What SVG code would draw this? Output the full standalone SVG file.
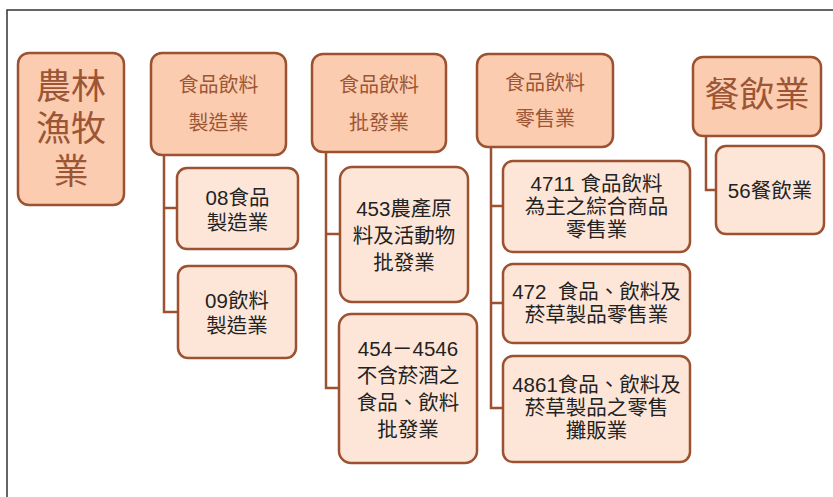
<svg xmlns="http://www.w3.org/2000/svg" width="833" height="497" viewBox="0 0 833 497">
<style>
.top rect{fill:#FBCCAF;stroke:#9C5130;stroke-width:2.5}
.child rect{fill:#FDE6D8;stroke:#9C5130;stroke-width:2.5}
.top text{fill:#9C5535;font-family:"Noto Sans CJK TC","Liberation Sans",sans-serif;text-anchor:middle}
.child text{fill:#222;font-family:"Liberation Sans","Noto Sans CJK TC",sans-serif;text-anchor:middle;font-size:20.5px}
#connectors path{fill:none;stroke:#9C5130;stroke-width:2.5}
</style>
<rect x="0" y="0" width="833" height="497" fill="#fff"/>
<path d="M7,497 V10 H833" fill="none" stroke="#333" stroke-width="1.5"/>
<g id="connectors">
<path d="M164,155 V312 H178 M164,208 H177"/>
<path d="M326,152 V388 H339 M326,234 H340"/>
<path d="M491,147 V408 H503 M491,206 H503 M491,303 H503"/>
<path d="M706,136 V190 H716"/>
</g>
<g id="n1" class="top"><rect x="18" y="53" width="106" height="152" rx="11"/>
<text x="71" y="99" font-size="35">農林</text><text x="71" y="141" font-size="35">漁牧</text><text x="71" y="184" font-size="35">業</text></g>
<g id="n2" class="top"><rect x="151" y="53" width="135" height="102" rx="11"/>
<text x="218.5" y="92" font-size="20">食品飲料</text><text x="218.5" y="130" font-size="20">製造業</text></g>
<g id="n2a" class="child"><rect x="177" y="168" width="121" height="81" rx="10"/>
<text x="237.5" y="205" font-size="22.5">08食品</text><text x="237.5" y="230" font-size="22.5">製造業</text></g>
<g id="n2b" class="child"><rect x="178" y="266" width="118" height="92" rx="10"/>
<text x="237" y="308" font-size="22.5">09飲料</text><text x="237" y="333" font-size="22.5">製造業</text></g>
<g id="n3" class="top"><rect x="312" y="54" width="134" height="98" rx="11"/>
<text x="379" y="92" font-size="20">食品飲料</text><text x="379" y="130" font-size="20">批發業</text></g>
<g id="n3a" class="child"><rect x="340" y="167" width="128" height="135" rx="12"/>
<text x="404" y="216" font-size="23.5">453農產原</text><text x="404" y="243" font-size="23.5">料及活動物</text><text x="404" y="270" font-size="23.5">批發業</text></g>
<g id="n3b" class="child"><rect x="339" y="314" width="138" height="149" rx="12"/>
<text x="408" y="356" font-size="23.5">454－4546</text><text x="408" y="383" font-size="23.5">不含菸酒之</text><text x="408" y="410" font-size="23.5">食品、飲料</text><text x="408" y="437" font-size="23.5">批發業</text></g>
<g id="n4" class="top"><rect x="477" y="54" width="136" height="93" rx="11"/>
<text x="545" y="90" font-size="20">食品飲料</text><text x="545" y="126" font-size="20">零售業</text></g>
<g id="n4a" class="child"><rect x="503" y="161" width="187" height="91" rx="10"/>
<text x="596.5" y="191">4711 食品飲料</text><text x="596.5" y="214">為主之綜合商品</text><text x="596.5" y="237">零售業</text></g>
<g id="n4b" class="child"><rect x="503" y="264" width="187" height="79" rx="10"/>
<text x="596.5" y="299" xml:space="preserve">472  食品、飲料及</text><text x="596.5" y="322">菸草製品零售業</text></g>
<g id="n4c" class="child"><rect x="503" y="356" width="187" height="106" rx="10"/>
<text x="596.5" y="392">4861食品、飲料及</text><text x="596.5" y="415">菸草製品之零售</text><text x="596.5" y="438">攤販業</text></g>
<g id="n5" class="top"><rect x="693" y="57" width="128" height="79" rx="10"/>
<text x="757" y="107" font-size="35">餐飲業</text></g>
<g id="n5a" class="child"><rect x="716" y="146" width="108" height="88" rx="10"/>
<text x="770" y="198" font-size="22.5">56餐飲業</text></g>
</svg>
